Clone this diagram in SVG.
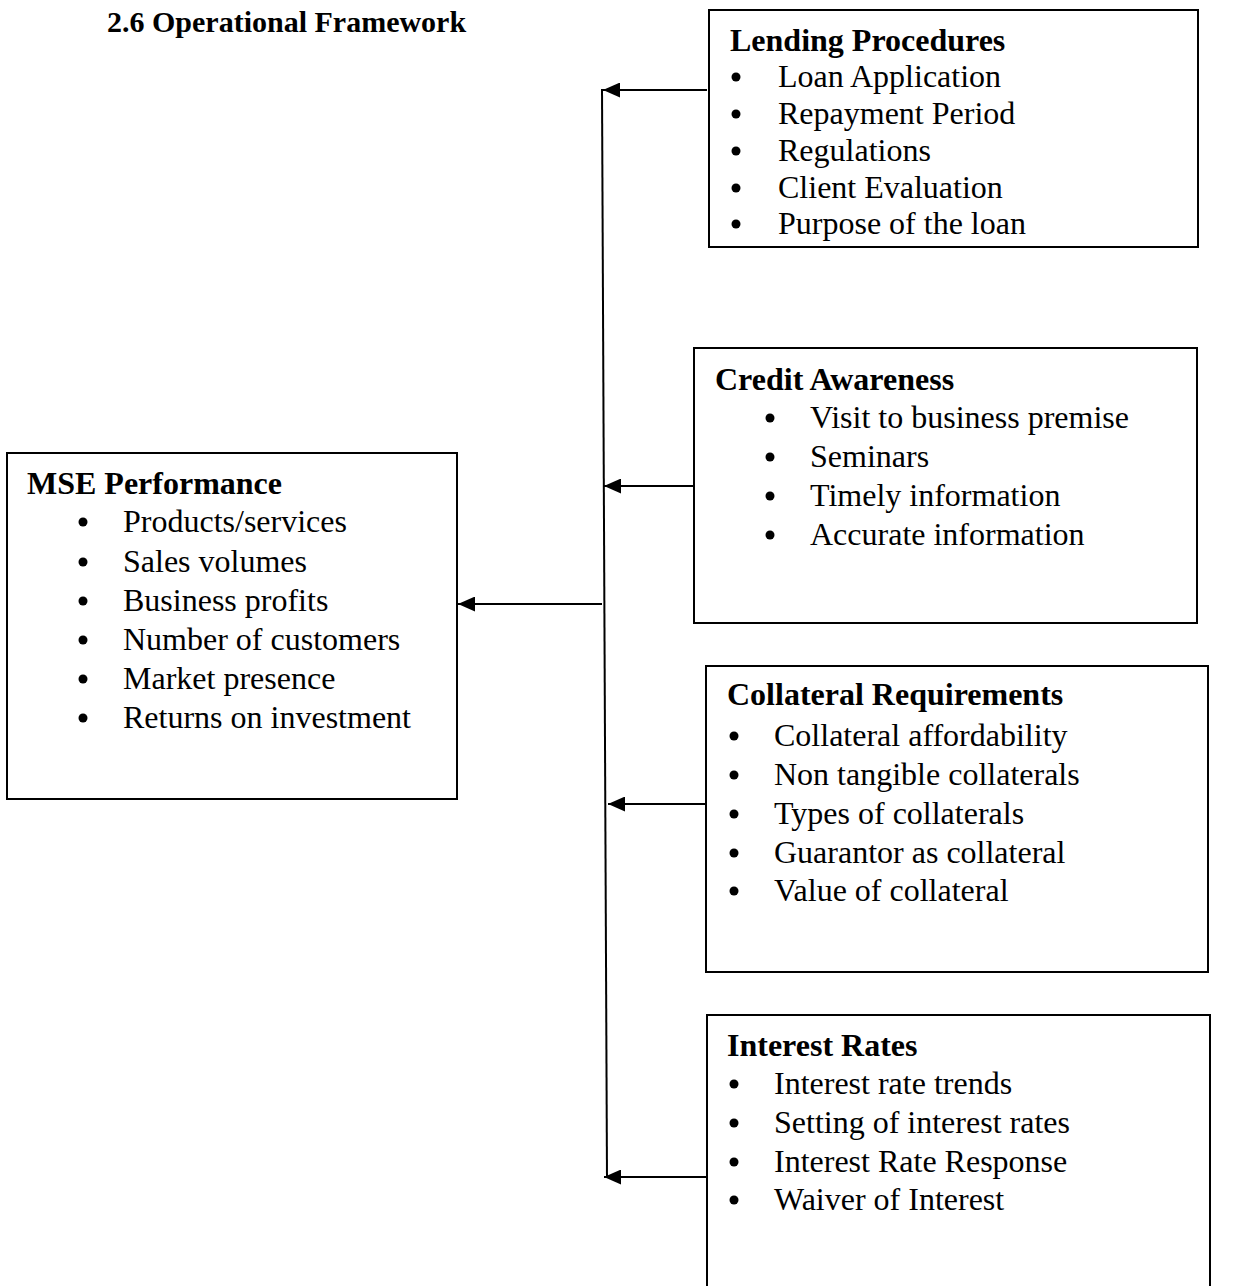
<svg xmlns="http://www.w3.org/2000/svg" width="1242" height="1286" viewBox="0 0 1242 1286">
<defs>
<style>
.box{fill:#fff;stroke:#000;stroke-width:2}
.h{font-family:"Liberation Serif","Times New Roman",serif;font-weight:bold;font-size:32px;fill:#000}
.t{font-family:"Liberation Serif","Times New Roman",serif;font-size:32px;fill:#000}
.c{stroke:#000;stroke-width:2;fill:none}
.a{stroke:#000;stroke-width:2;fill:none;marker-end:url(#arr)}
.b{fill:#000}
</style>
<marker id="arr" markerUnits="userSpaceOnUse" markerWidth="18" markerHeight="15" refX="17" refY="7.5" orient="auto">
<path d="M0,0 L17,7.5 L0,15 z" fill="#000"/>
</marker>
</defs>
<rect width="1242" height="1286" fill="#fff"/>
<text class="h" x="107" y="32" style="font-size:30px">2.6 Operational Framework</text>

<g id="connectors">
<line class="c" x1="602" y1="89" x2="607" y2="1178"/>
<line class="a" x1="707" y1="90" x2="603" y2="90"/>
<line class="a" x1="694" y1="486" x2="604" y2="486"/>
<line class="a" x1="602" y1="604" x2="458" y2="604"/>
<line class="a" x1="706" y1="804" x2="608" y2="804"/>
<line class="a" x1="707" y1="1177" x2="604" y2="1177"/>
</g>

<g id="mse">
<rect class="box" x="7" y="453" width="450" height="346"/>
<text class="h" x="27" y="494">MSE Performance</text>
<g class="b">
<circle cx="83" cy="522" r="4.5"/><circle cx="83" cy="562" r="4.5"/><circle cx="83" cy="601" r="4.5"/>
<circle cx="83" cy="640" r="4.5"/><circle cx="83" cy="679" r="4.5"/><circle cx="83" cy="718" r="4.5"/>
</g>
<g class="t">
<text x="123" y="532">Products/services</text>
<text x="123" y="572">Sales volumes</text>
<text x="123" y="611">Business profits</text>
<text x="123" y="650">Number of customers</text>
<text x="123" y="689">Market presence</text>
<text x="123" y="728">Returns on investment</text>
</g>
</g>

<g id="lending">
<rect class="box" x="709" y="10" width="489" height="237"/>
<text class="h" x="730" y="51">Lending Procedures</text>
<g class="b">
<circle cx="736" cy="77" r="4.5"/><circle cx="736" cy="114" r="4.5"/><circle cx="736" cy="151" r="4.5"/>
<circle cx="736" cy="188" r="4.5"/><circle cx="736" cy="224" r="4.5"/>
</g>
<g class="t">
<text x="778" y="87">Loan Application</text>
<text x="778" y="124">Repayment Period</text>
<text x="778" y="161">Regulations</text>
<text x="778" y="198">Client Evaluation</text>
<text x="778" y="234">Purpose of the loan</text>
</g>
</g>

<g id="credit">
<rect class="box" x="694" y="348" width="503" height="275"/>
<text class="h" x="715" y="390">Credit Awareness</text>
<g class="b">
<circle cx="770" cy="418" r="4.5"/><circle cx="770" cy="457" r="4.5"/>
<circle cx="770" cy="496" r="4.5"/><circle cx="770" cy="535" r="4.5"/>
</g>
<g class="t">
<text x="810" y="428">Visit to business premise</text>
<text x="810" y="467">Seminars</text>
<text x="810" y="506">Timely information</text>
<text x="810" y="545">Accurate information</text>
</g>
</g>

<g id="collateral">
<rect class="box" x="706" y="666" width="502" height="306"/>
<text class="h" x="727" y="705">Collateral Requirements</text>
<g class="b">
<circle cx="734" cy="736" r="4.5"/><circle cx="734" cy="775" r="4.5"/><circle cx="734" cy="814" r="4.5"/>
<circle cx="734" cy="853" r="4.5"/><circle cx="734" cy="891" r="4.5"/>
</g>
<g class="t">
<text x="774" y="746">Collateral affordability</text>
<text x="774" y="785">Non tangible collaterals</text>
<text x="774" y="824">Types of collaterals</text>
<text x="774" y="863">Guarantor as collateral</text>
<text x="774" y="901">Value of collateral</text>
</g>
</g>

<g id="interest">
<rect class="box" x="707" y="1015" width="503" height="290"/>
<text class="h" x="727" y="1056">Interest Rates</text>
<g class="b">
<circle cx="734" cy="1084" r="4.5"/><circle cx="734" cy="1123" r="4.5"/>
<circle cx="734" cy="1162" r="4.5"/><circle cx="734" cy="1200" r="4.5"/>
</g>
<g class="t">
<text x="774" y="1094">Interest rate trends</text>
<text x="774" y="1133">Setting of interest rates</text>
<text x="774" y="1172">Interest Rate Response</text>
<text x="774" y="1210">Waiver of Interest</text>
</g>
</g>
</svg>
